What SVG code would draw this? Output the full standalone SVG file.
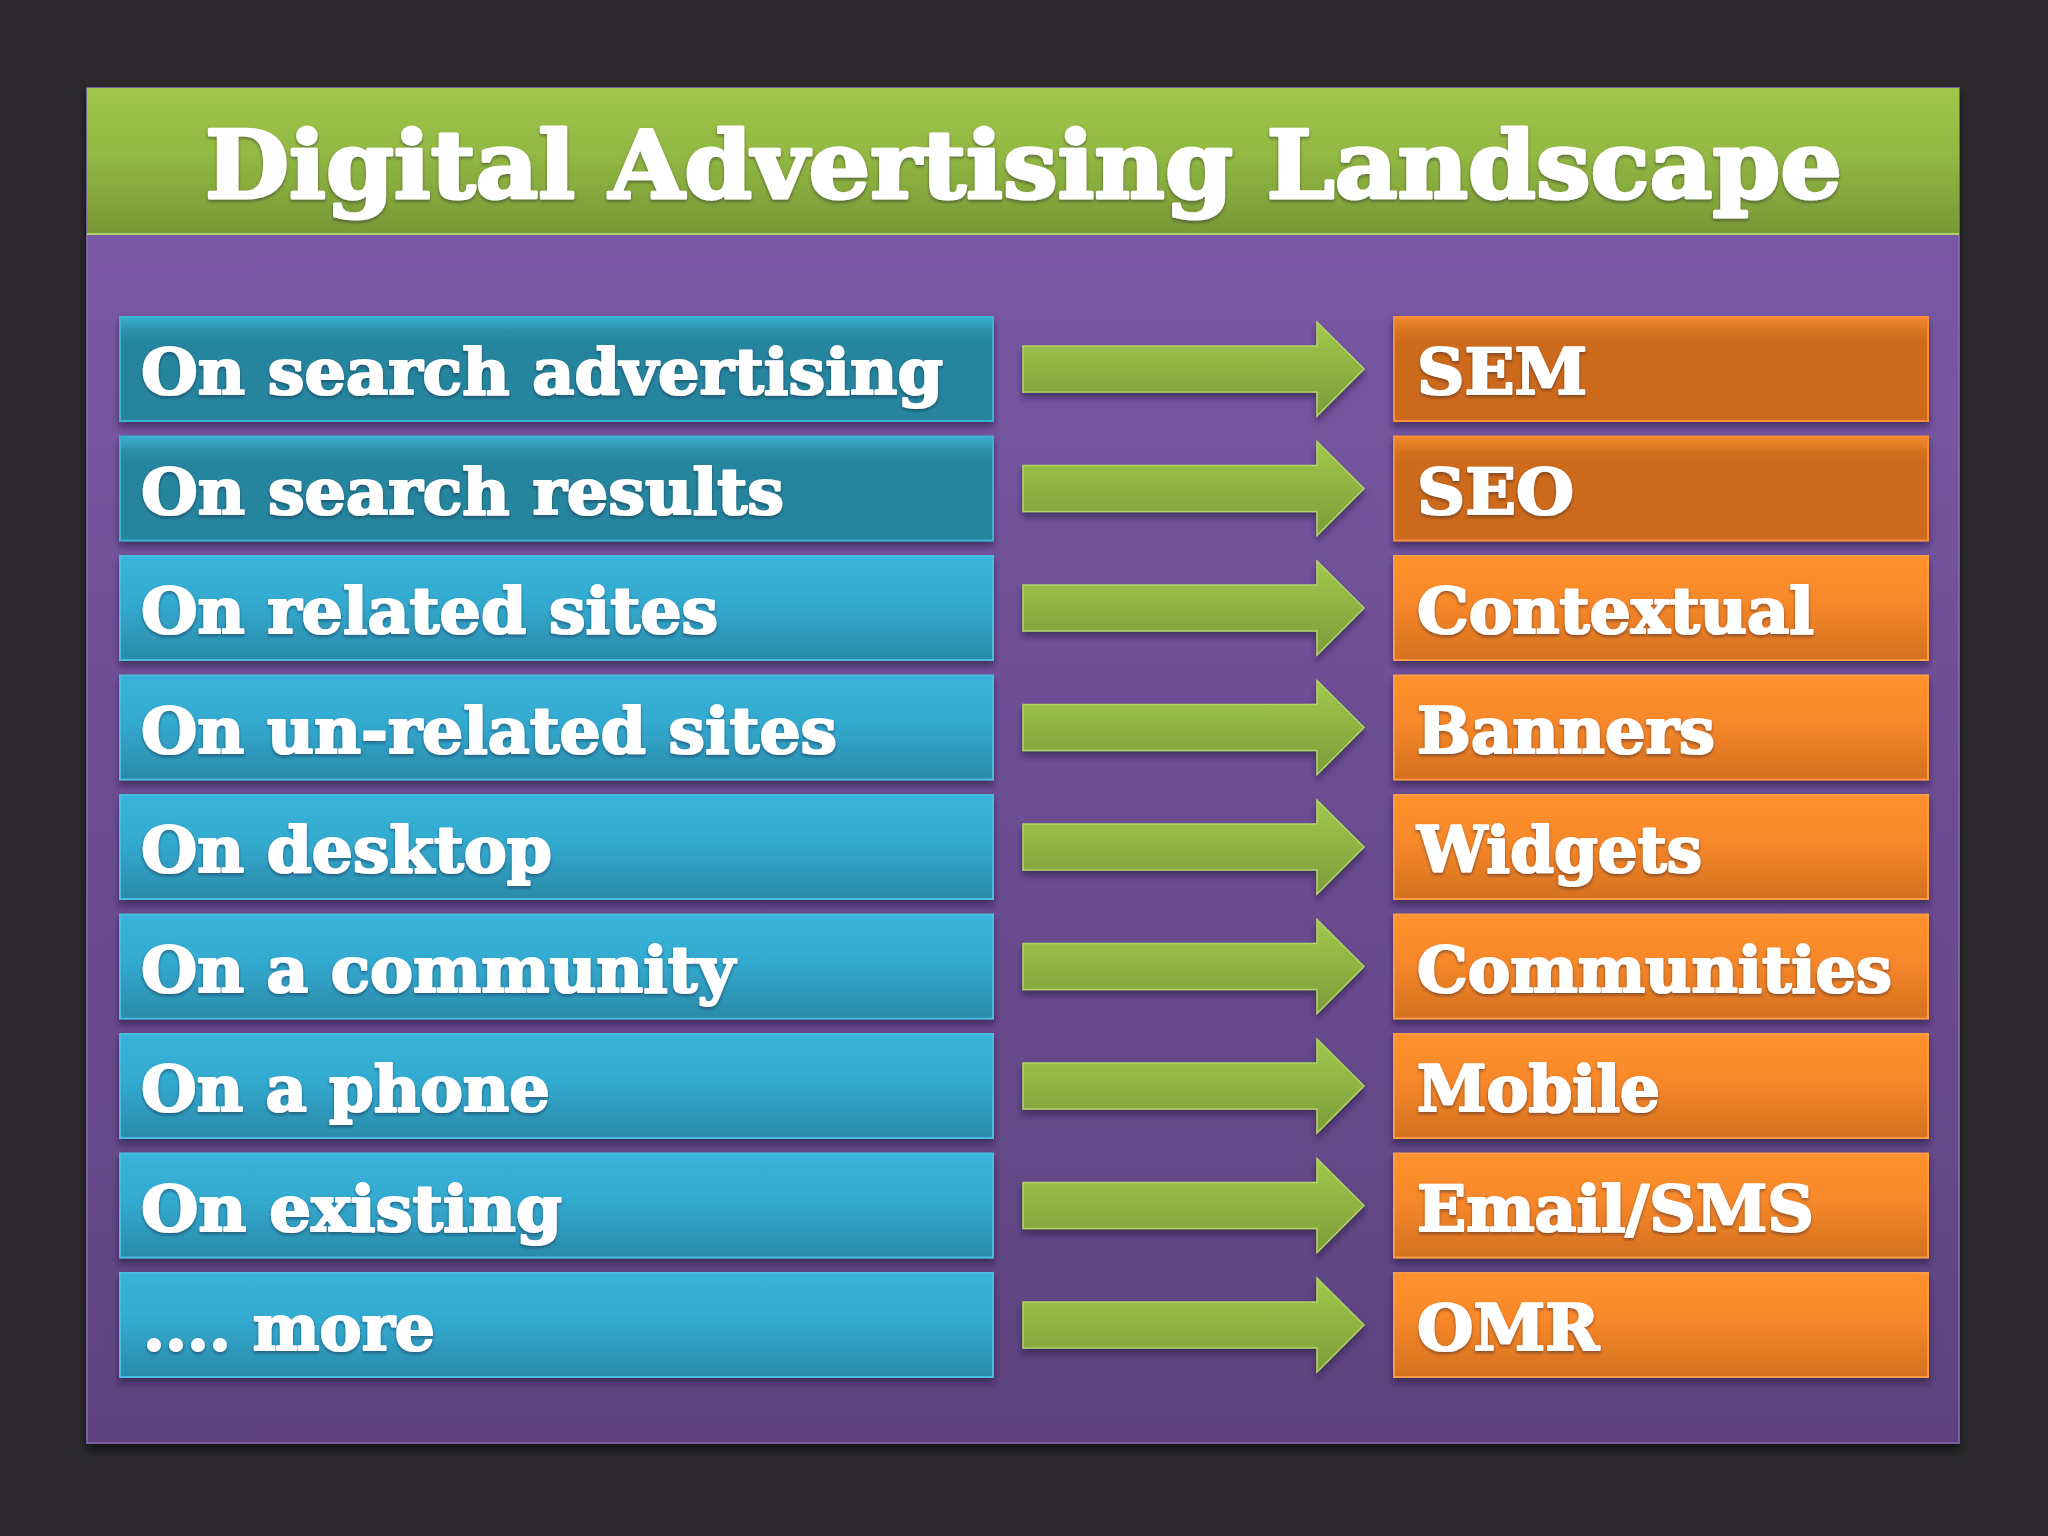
<svg xmlns="http://www.w3.org/2000/svg" width="2048" height="1536" viewBox="0 0 2048 1536">
<defs>
<linearGradient id="gPanel" x1="0" y1="0" x2="0" y2="1">
<stop offset="0" stop-color="#7c5aa9"/><stop offset="1" stop-color="#5d437e"/>
</linearGradient>
<linearGradient id="gHead" x1="0" y1="0" x2="0" y2="1">
<stop offset="0" stop-color="#a0c64a"/><stop offset="0.45" stop-color="#93b843"/><stop offset="1" stop-color="#779735"/>
</linearGradient>
<linearGradient id="gBlueDark" x1="0" y1="0" x2="0" y2="1">
<stop offset="0" stop-color="#3aafd0"/><stop offset="0.14" stop-color="#2a8ea8"/><stop offset="0.25" stop-color="#26859e"/><stop offset="1" stop-color="#26859d"/>
</linearGradient>
<linearGradient id="gBlue" x1="0" y1="0" x2="0" y2="1">
<stop offset="0" stop-color="#38b4da"/><stop offset="0.45" stop-color="#33aad0"/><stop offset="1" stop-color="#2a8aa8"/>
</linearGradient>
<linearGradient id="gOrgDark" x1="0" y1="0" x2="0" y2="1">
<stop offset="0" stop-color="#f58a30"/><stop offset="0.14" stop-color="#d6721f"/><stop offset="0.25" stop-color="#cd6a1c"/><stop offset="1" stop-color="#cc691c"/>
</linearGradient>
<linearGradient id="gOrg" x1="0" y1="0" x2="0" y2="1">
<stop offset="0" stop-color="#ff922d"/><stop offset="0.45" stop-color="#f7882a"/><stop offset="1" stop-color="#d4701f"/>
</linearGradient>
<linearGradient id="gArrow" x1="0" y1="0" x2="0" y2="1">
<stop offset="0" stop-color="#a2c84c"/><stop offset="1" stop-color="#7c9c38"/>
</linearGradient>
<filter id="sh" x="-5%" y="-20%" width="110%" height="150%">
<feDropShadow dx="0" dy="5" stdDeviation="3" flood-color="#24163a" flood-opacity="0.55"/>
</filter>
<filter id="shPanel" x="-5%" y="-5%" width="110%" height="110%">
<feDropShadow dx="0" dy="6" stdDeviation="4" flood-color="#000" flood-opacity="0.6"/>
</filter>
<filter id="tsh" x="-5%" y="-20%" width="110%" height="150%">
<feDropShadow dx="0" dy="2" stdDeviation="1.5" flood-color="#1a1a30" flood-opacity="0.45"/>
</filter>
<path id="arrow" d="M0,29 H294 V5 L341,52 L294,99 V75 H0 Z"/>
</defs>
<style>
.t{font-family:"DejaVu Serif","Liberation Serif",serif;font-weight:bold;fill:#ffffff;stroke:#ffffff;stroke-width:2.2;stroke-linejoin:round;font-size:64px;filter:url(#tsh)}
.title{font-size:94px;stroke-width:3.2}
.bd{fill:url(#gBlueDark);stroke:#3db3d4;stroke-width:2}
.b{fill:url(#gBlue);stroke:#48bde0;stroke-width:2}
.od{fill:url(#gOrgDark);stroke:#f58d3a;stroke-width:2}
.o{fill:url(#gOrg);stroke:#fb9b45;stroke-width:2}
.box{filter:url(#sh)}
.arr{fill:url(#gArrow);stroke:#b0d468;stroke-width:1.5;filter:url(#sh)}
</style>
<rect x="0" y="0" width="2048" height="1536" fill="#2b292c"/>
<g id="panel">
<rect x="87" y="88" width="1872" height="1355" fill="url(#gPanel)" stroke="#8a6cb5" stroke-width="1.5" filter="url(#shPanel)"/>
</g>
<g id="header">
<rect x="87" y="88" width="1872" height="146" fill="url(#gHead)"/>
<line x1="87" y1="234" x2="1959" y2="234" stroke="#b0d26a" stroke-width="2"/>
<text class="t title" x="205" y="198" textLength="1637" lengthAdjust="spacingAndGlyphs">Digital Advertising Landscape</text>
</g>
<g id="connectors">
<use href="#arrow" class="arr" x="1023" y="317"/>
<use href="#arrow" class="arr" x="1023" y="436.5"/>
<use href="#arrow" class="arr" x="1023" y="556"/>
<use href="#arrow" class="arr" x="1023" y="675.5"/>
<use href="#arrow" class="arr" x="1023" y="795"/>
<use href="#arrow" class="arr" x="1023" y="914.5"/>
<use href="#arrow" class="arr" x="1023" y="1034"/>
<use href="#arrow" class="arr" x="1023" y="1153.5"/>
<use href="#arrow" class="arr" x="1023" y="1273"/>
</g>
<g id="left1" class="box"><rect class="bd" x="120" y="317" width="873" height="104"/><text class="t" x="141" y="394" textLength="802" lengthAdjust="spacingAndGlyphs">On search advertising</text></g>
<g id="left2" class="box"><rect class="bd" x="120" y="436.5" width="873" height="104"/><text class="t" x="141" y="513.5" textLength="643" lengthAdjust="spacingAndGlyphs">On search results</text></g>
<g id="left3" class="box"><rect class="b" x="120" y="556" width="873" height="104"/><text class="t" x="141" y="633" textLength="577" lengthAdjust="spacingAndGlyphs">On related sites</text></g>
<g id="left4" class="box"><rect class="b" x="120" y="675.5" width="873" height="104"/><text class="t" x="141" y="752.5" textLength="696" lengthAdjust="spacingAndGlyphs">On un-related sites</text></g>
<g id="left5" class="box"><rect class="b" x="120" y="795" width="873" height="104"/><text class="t" x="141" y="872" textLength="411" lengthAdjust="spacingAndGlyphs">On desktop</text></g>
<g id="left6" class="box"><rect class="b" x="120" y="914.5" width="873" height="104"/><text class="t" x="141" y="991.5" textLength="594" lengthAdjust="spacingAndGlyphs">On a community</text></g>
<g id="left7" class="box"><rect class="b" x="120" y="1034" width="873" height="104"/><text class="t" x="141" y="1111" textLength="409" lengthAdjust="spacingAndGlyphs">On a phone</text></g>
<g id="left8" class="box"><rect class="b" x="120" y="1153.5" width="873" height="104"/><text class="t" x="141" y="1230.5" textLength="421" lengthAdjust="spacingAndGlyphs">On existing</text></g>
<g id="left9" class="box"><rect class="b" x="120" y="1273" width="873" height="104"/><text class="t" x="143" y="1350" textLength="292" lengthAdjust="spacingAndGlyphs">.... more</text></g>
<g id="right1" class="box"><rect class="od" x="1394" y="317" width="534" height="104"/><text class="t" x="1417" y="394" textLength="170" lengthAdjust="spacingAndGlyphs">SEM</text></g>
<g id="right2" class="box"><rect class="od" x="1394" y="436.5" width="534" height="104"/><text class="t" x="1417" y="513.5" textLength="157" lengthAdjust="spacingAndGlyphs">SEO</text></g>
<g id="right3" class="box"><rect class="o" x="1394" y="556" width="534" height="104"/><text class="t" x="1417" y="633" textLength="397" lengthAdjust="spacingAndGlyphs">Contextual</text></g>
<g id="right4" class="box"><rect class="o" x="1394" y="675.5" width="534" height="104"/><text class="t" x="1417" y="752.5" textLength="298" lengthAdjust="spacingAndGlyphs">Banners</text></g>
<g id="right5" class="box"><rect class="o" x="1394" y="795" width="534" height="104"/><text class="t" x="1417" y="872" textLength="285" lengthAdjust="spacingAndGlyphs">Widgets</text></g>
<g id="right6" class="box"><rect class="o" x="1394" y="914.5" width="534" height="104"/><text class="t" x="1417" y="991.5" textLength="475" lengthAdjust="spacingAndGlyphs">Communities</text></g>
<g id="right7" class="box"><rect class="o" x="1394" y="1034" width="534" height="104"/><text class="t" x="1417" y="1111" textLength="243" lengthAdjust="spacingAndGlyphs">Mobile</text></g>
<g id="right8" class="box"><rect class="o" x="1394" y="1153.5" width="534" height="104"/><text class="t" x="1417" y="1230.5" textLength="397" lengthAdjust="spacingAndGlyphs">Email/SMS</text></g>
<g id="right9" class="box"><rect class="o" x="1394" y="1273" width="534" height="104"/><text class="t" x="1417" y="1350" textLength="182" lengthAdjust="spacingAndGlyphs">OMR</text></g>
</svg>
